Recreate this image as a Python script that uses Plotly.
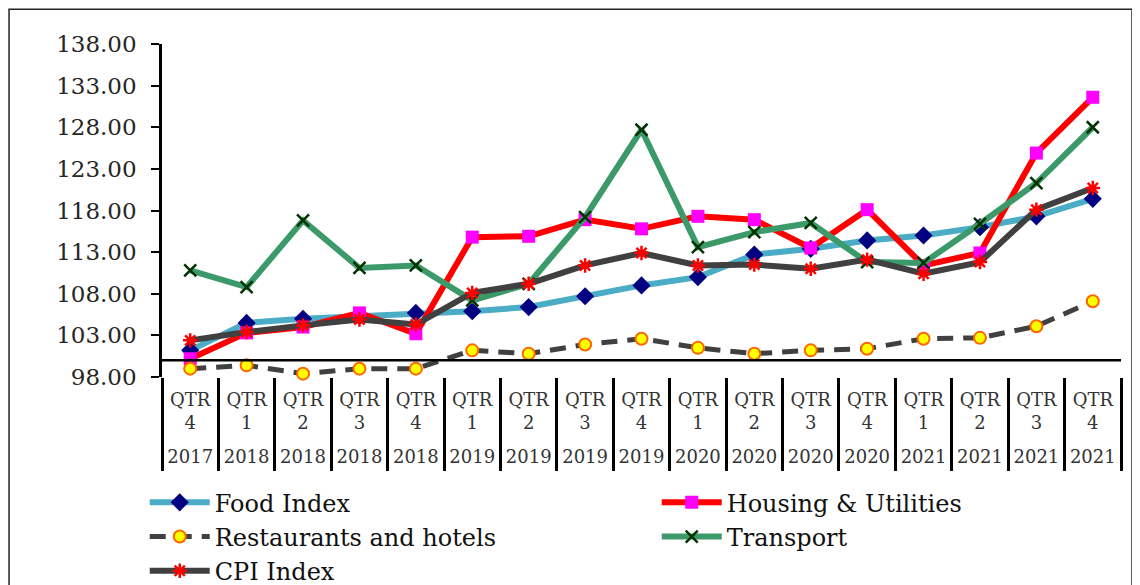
import plotly.graph_objects as go

# quarter / year labels for the category axis
quarters = ["4", "1", "2", "3", "4", "1", "2", "3", "4", "1", "2", "3", "4", "1", "2", "3", "4"]
years = ["2017", "2018", "2018", "2018", "2018", "2019", "2019", "2019", "2019",
         "2020", "2020", "2020", "2020", "2021", "2021", "2021", "2021"]

# index values
food_index = [101.2, 104.5, 105.0, 105.3, 105.7, 105.9, 106.4, 107.7, 109.0,
              110.0, 112.7, 113.4, 114.4, 115.0, 116.0, 117.3, 119.4]
housing_utilities = [100.2, 103.3, 104.0, 105.7, 103.2, 114.8, 114.9, 116.9, 115.8,
                     117.3, 116.9, 113.5, 118.1, 111.4, 112.9, 124.9, 131.6]
restaurants_hotels = [99.0, 99.4, 98.4, 99.0, 99.0, 101.2, 100.8, 101.9, 102.6,
                      101.5, 100.8, 101.2, 101.4, 102.6, 102.7, 104.1, 107.1]
transport = [110.8, 108.8, 116.8, 111.1, 111.4, 107.2, 109.2, 117.2, 127.7,
             113.6, 115.4, 116.5, 111.8, 111.7, 116.4, 121.3, 128.0]
cpi_index = [102.4, 103.4, 104.2, 104.9, 104.3, 108.1, 109.2, 111.4, 112.9,
             111.4, 111.5, 111.0, 112.1, 110.4, 111.8, 118.1, 120.7]

x_idx = list(range(len(quarters)))
qtr_labels = ["QTR<br>" + q for q in quarters]

SERIF = "DejaVu Serif"
DARK = "#404040"

fig = go.Figure()

fig.add_trace(go.Scatter(
    x=x_idx, y=food_index, name="Food Index", mode="lines+markers",
    line=dict(color="#4bacc6", width=6),
    marker=dict(symbol="diamond", size=14, color="#000080"),
    cliponaxis=False,
))
fig.add_trace(go.Scatter(
    x=x_idx, y=housing_utilities, name="Housing & Utilities", mode="lines+markers",
    line=dict(color="#ff0000", width=6),
    marker=dict(symbol="square", size=13, color="#ff00ff"),
    cliponaxis=False,
))
fig.add_trace(go.Scatter(
    x=x_idx, y=restaurants_hotels, name="Restaurants and hotels", mode="lines+markers",
    line=dict(color=DARK, width=5, dash="16px,10px"),
    marker=dict(symbol="circle", size=12, color="#ffff00",
                line=dict(color="#ff6600", width=2)),
    cliponaxis=False,
))
fig.add_trace(go.Scatter(
    x=x_idx, y=transport, name="Transport", mode="lines+markers",
    line=dict(color="#3c9a6a", width=6),
    marker=dict(symbol="x-thin-open", size=12, color="#003300",
                line=dict(color="#003300", width=2.5)),
    cliponaxis=False,
))
fig.add_trace(go.Scatter(
    x=x_idx, y=cpi_index, name="CPI Index", mode="lines+markers",
    line=dict(color=DARK, width=6),
    marker=dict(symbol="asterisk-open", size=12, color="#ff0000",
                line=dict(color="#ff0000", width=2.5)),
    cliponaxis=False,
))
# carries the year row of the category labels
fig.add_trace(go.Scatter(
    x=x_idx, y=food_index, xaxis="x2", mode="none",
    showlegend=False, hoverinfo="skip",
))

n = len(x_idx)

# horizontal category axis crosses at 100
fig.add_shape(type="line", xref="x", yref="y", x0=-0.5, x1=n - 0.5, y0=100, y1=100,
              line=dict(color="black", width=2.5), layer="above")
# outer chart frame
fig.add_shape(type="rect", xref="paper", yref="paper",
              x0=-0.1595, x1=1.0115, y0=-0.75, y1=1.104,
              line=dict(color="#222222", width=1.5))

fig.update_layout(
    width=1132, height=577,
    margin=dict(l=154, r=19, t=36, b=208, autoexpand=False),
    paper_bgcolor="white", plot_bgcolor="white",
    font=dict(family=SERIF, color="#222222"),
    showlegend=True,
    legend=dict(
        orientation="h", x=-0.018, y=-0.31, xanchor="left", yanchor="top",
        entrywidth=437, entrywidthmode="pixels",
        font=dict(family=SERIF, size=24, color="#111111"),
        itemwidth=60, tracegroupgap=0, bgcolor="rgba(0,0,0,0)",
    ),
    xaxis=dict(
        range=[-0.5, n - 0.5], tickmode="array", tickvals=x_idx, ticktext=qtr_labels,
        ticks="", showline=False, showgrid=False, zeroline=False,
        tickfont=dict(family=SERIF, size=18, color="#333333"),
        ticklabelstandoff=10,
        minor=dict(tick0=-0.5, dtick=1, ticks="outside", ticklen=93,
                   tickwidth=3, tickcolor="black", showgrid=False),
    ),
    xaxis2=dict(
        overlaying="x", matches="x", side="bottom", anchor="y",
        tickmode="array", tickvals=x_idx, ticktext=years,
        ticks="", showline=False, showgrid=False, zeroline=False,
        tickfont=dict(family=SERIF, size=18, color="#333333"),
        ticklabelstandoff=67,
    ),
    yaxis=dict(
        range=[98, 138], tick0=98, dtick=5, tickformat=".2f",
        ticks="outside", ticklen=8, tickwidth=2, tickcolor="black",
        showline=True, linecolor="black", linewidth=2.5,
        showgrid=False, zeroline=False,
        tickfont=dict(family=SERIF, size=23, color="#262626"),
        ticklabelstandoff=10,
    ),
)

fig.write_html("out.html")
